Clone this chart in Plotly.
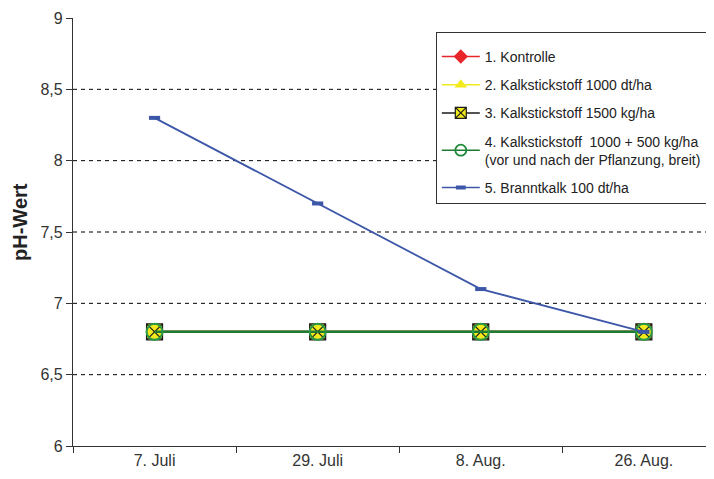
import plotly.graph_objects as go

dates = ["7. Juli", "29. Juli", "8. Aug.", "26. Aug."]
names = [
    "1. Kontrolle",
    "2. Kalkstickstoff 1000 dt/ha",
    "3. Kalkstickstoff 1500 kg/ha",
    "4. Kalkstickstoff  1000 + 500 kg/ha<br>(vor und nach der Pflanzung, breit)",
    "5. Branntkalk 100 dt/ha",
]
kontrolle = [6.8, 6.8, 6.8, 6.8]
kalk1000 = [6.8, 6.8, 6.8, 6.8]
kalk1500 = [6.8, 6.8, 6.8, 6.8]
kalk1000_500 = [6.8, 6.8, 6.8, 6.8]
branntkalk = [8.3, 7.7, 7.1, 6.8]
grid_vals = [6.5, 7, 7.5, 8, 8.5]
y_ticks = [6, 6.5, 7, 7.5, 8, 8.5, 9]

series = [kontrolle, kalk1000, kalk1500, kalk1000_500, branntkalk]
styles = [
    dict(line=dict(color="#e8262a", width=2),
         marker=dict(symbol="diamond", size=13, color="#e8262a"),
         lmarker=dict(symbol="diamond", size=11, color="#e8262a")),
    dict(line=dict(color="#f2ea1c", width=2),
         marker=dict(symbol="triangle-up", size=14, color="#f2ea1c"),
         lmarker=dict(symbol="triangle-up", size=11, color="#f2ea1c")),
    dict(line=dict(color="#1a1a1a", width=2),
         marker=dict(symbol="square-x", size=16, color="#f2ea1c",
                     line=dict(color="#1a1a1a", width=1.2)),
         lmarker=dict(symbol="square-x", size=11, color="#f2ea1c",
                      line=dict(color="#1a1a1a", width=1.2))),
    dict(line=dict(color="#1e7b34", width=2.5),
         marker=dict(symbol="circle-open", size=16, color="#2a9a45", line=dict(width=2)),
         lmarker=dict(symbol="circle-open", size=11, color="#1e8a3a", line=dict(width=1.8))),
    dict(line=dict(color="#3d57a8", width=1.8),
         marker=dict(symbol="line-ew", size=8, color="#3d57a8",
                     line=dict(color="#3d57a8", width=4)),
         lmarker=dict(symbol="line-ew", size=7, color="#3d57a8",
                      line=dict(color="#3d57a8", width=4))),
]

fig = go.Figure()
for i, (vals, st) in enumerate(zip(series, styles)):
    fig.add_trace(go.Scatter(x=dates, y=vals, name=names[i], mode="lines+markers",
                             line=st["line"], marker=st["marker"],
                             legendgroup=f"g{i}", showlegend=False))
for i, st in enumerate(styles):
    lw = dict(st["line"])
    lw["width"] = 1.5
    fig.add_trace(go.Scatter(x=[None], y=[None], name=names[i], mode="lines+markers",
                             line=lw, marker=st["lmarker"],
                             legendgroup=f"g{i}", showlegend=True))

for g in grid_vals:
    fig.add_shape(type="line", xref="paper", yref="y", x0=0, x1=1, y0=g, y1=g,
                  line=dict(color="black", width=1, dash="4px,4px"), layer="below")

fig.add_annotation(text="<b>pH-Wert</b>", textangle=-90, xref="paper", yref="paper",
                   x=-0.083, y=0.523, showarrow=False, xanchor="center", yanchor="middle",
                   font=dict(size=20, color="#222222"))

fig.update_layout(
    width=706, height=471,
    margin=dict(l=65, r=0, t=10, b=33, autoexpand=False),
    paper_bgcolor="white", plot_bgcolor="white",
    separators=",.",
    font=dict(family="Liberation Sans, Arial, sans-serif", color="#333333"),
    showlegend=True,
    legend=dict(x=0.566, y=0.967, xanchor="left", yanchor="top",
                bgcolor="white", bordercolor="#333333", borderwidth=1,
                font=dict(size=14, color="#222222"),
                title=dict(text=" ", font=dict(size=6)),
                tracegroupgap=7, traceorder="grouped", itemwidth=38),
    xaxis=dict(type="category", range=[-0.5, 3.43], tickson="boundaries",
               showline=True, linecolor="#333333", linewidth=1.3,
               ticks="outside", ticklen=6, tickcolor="#333333", automargin=False,
               showgrid=False, tickfont=dict(size=16, color="#333333")),
    yaxis=dict(range=[6, 9], tickvals=y_ticks, showline=True, linecolor="#333333",
               linewidth=1.3, ticks="outside", ticklen=6, tickcolor="#333333",
               showgrid=False, zeroline=False, automargin=False,
               tickfont=dict(size=16, color="#333333")),
)

fig.write_html("out.html")
